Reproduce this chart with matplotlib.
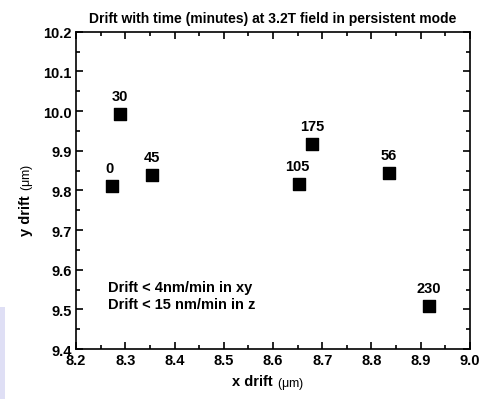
import matplotlib
matplotlib.use("Agg")
import matplotlib.pyplot as plt
from matplotlib.patches import Rectangle
from matplotlib.ticker import MultipleLocator, FormatStrFormatter

plt.rcParams['font.family'] = ['Liberation Sans', 'DejaVu Sans']

# drift data, labels are times in minutes
x_drift = [8.273, 8.289, 8.354, 8.653, 8.679, 8.835, 8.917]
y_drift = [9.812, 9.993, 9.838, 9.817, 9.918, 9.845, 9.508]
labels = ['0', '30', '45', '105', '175', '56', '230']
label_dx = [-0.005, 0.0, 0.0, -0.003, 0.0, 0.0, 0.0]

fig = plt.figure(figsize=(4.91, 4.10), dpi=100)
ax = fig.add_axes([0.155, 0.146, 0.802, 0.774])

# light box at left edge of the slide
fig.patches.append(Rectangle((0, 0.025), 0.011, 0.225, transform=fig.transFigure,
                             facecolor='#dfdff5', edgecolor='none'))

ax.scatter(x_drift, y_drift, marker='s', s=85, color='black', zorder=3)
for x, y, t, dx in zip(x_drift, y_drift, labels, label_dx):
    ax.annotate(t, (x + dx, y), xytext=(0, 8), textcoords='offset points',
                ha='center', va='bottom', fontsize=10.5, fontweight='bold')

ax.set_xlim(8.2, 9.0)
ax.set_ylim(9.4, 10.2)
ax.xaxis.set_major_locator(MultipleLocator(0.1))
ax.xaxis.set_minor_locator(MultipleLocator(0.05))
ax.yaxis.set_major_locator(MultipleLocator(0.1))
ax.yaxis.set_minor_locator(MultipleLocator(0.05))
ax.xaxis.set_major_formatter(FormatStrFormatter('%.1f'))
ax.yaxis.set_major_formatter(FormatStrFormatter('%.1f'))
ax.tick_params(which='both', direction='in', top=True, right=True, width=1.2,
               labelsize=10.5, pad=3)
ax.tick_params(which='major', length=5)
ax.tick_params(which='minor', length=3)
for lab in ax.get_xticklabels() + ax.get_yticklabels():
    lab.set_fontweight('bold')
for sp in ax.spines.values():
    sp.set_linewidth(1.2)

# axis labels: bold name, plain unit
ax.text(0.51, -0.078, 'x drift ', transform=ax.transAxes, fontsize=10.5,
        fontweight='bold', ha='right', va='top')
ax.text(0.51, -0.081, r'($\mathregular{\mu}$m)', transform=ax.transAxes, fontsize=9,
        ha='left', va='top')
ax.text(-0.127, 0.5, 'y drift ', transform=ax.transAxes, fontsize=10.5,
        fontweight='bold', ha='center', va='top', rotation=90)
ax.text(-0.124, 0.5, r'($\mathregular{\mu}$m)', transform=ax.transAxes, fontsize=9,
        ha='center', va='bottom', rotation=90)
ax.set_title('Drift with time (minutes) at 3.2T field in persistent mode',
             fontsize=10, fontweight='bold', pad=7)

ax.text(8.265, 9.535, 'Drift < 4nm/min in xy\nDrift < 15 nm/min in z',
        fontsize=10.5, fontweight='bold', linespacing=1.3, va='center')

fig.savefig('out.png', dpi=100)
